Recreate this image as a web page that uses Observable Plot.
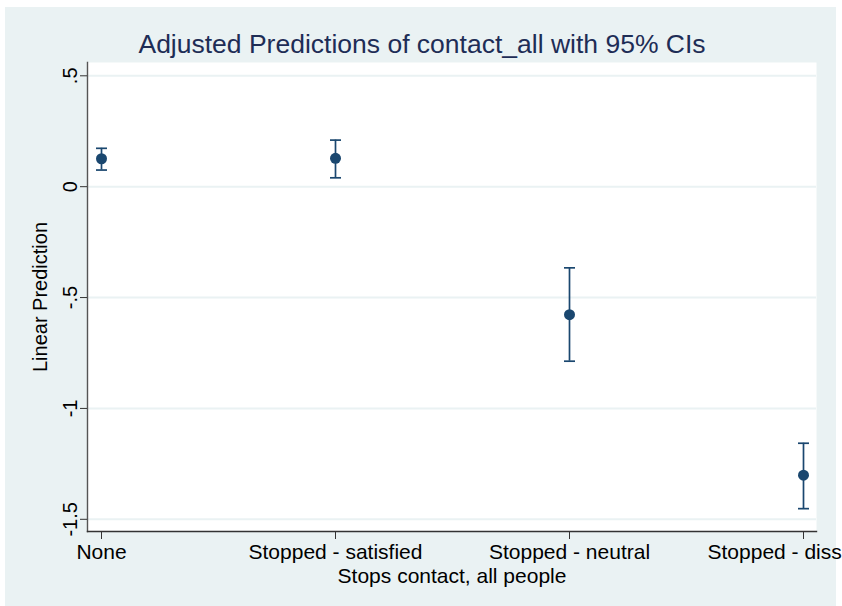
<!DOCTYPE html>
<html>
<head>
<meta charset="utf-8">
<script src="https://cdn.jsdelivr.net/npm/d3@7"></script>
<script src="https://cdn.jsdelivr.net/npm/@observablehq/plot@0.6"></script>
<style>
  html, body { margin: 0; padding: 0; background: #ffffff; }
  #wrap { position: relative; width: 842px; height: 606px; overflow: hidden; }
  #bg { position: absolute; left: 5px; top: 7px; width: 831px; height: 599px; background: #eaf2f3; }
  #chart { position: absolute; left: 0; top: 0; }
</style>
</head>
<body>
<div id="wrap"><div id="bg"></div><div id="chart"></div></div>
<script>
// ---- data ----
const categories = ["None", "Stopped - satisfied", "Stopped - neutral", "Stopped - dissatisfied"];
const tickLabels = ["None", "Stopped - satisfied", "Stopped - neutral", "Stopped - diss"];
const estimates  = [0.126, 0.128, -0.577, -1.301];
const lowerCI    = [0.075, 0.040, -0.787, -1.452];
const upperCI    = [0.173, 0.210, -0.366, -1.157];
const yTicks     = [0.5, 0, -0.5, -1, -1.5];
const titleText  = "Adjusted Predictions of contact_all with 95% CIs";
const xTitle     = "Stops contact, all people";
const yTitle     = "Linear Prediction";

const rows = categories.map((c, i) => ({cat: c, label: tickLabels[i], est: estimates[i], lo: lowerCI[i], hi: upperCI[i]}));

const navy = "#1a476f";
const font = "'Liberation Sans', Arial, Helvetica, sans-serif";
const capSymbol = {
  draw(context, size) {
    const w = Math.sqrt(size / Math.PI);
    context.moveTo(-w, 0);
    context.lineTo(w, 0);
  }
};
const fmt = d => d === 0 ? "0" : String(d).replace("0.", ".");

const chart = Plot.plot({
  width: 842,
  height: 606,
  marginLeft: 87,
  marginRight: 26,
  marginTop: 62,
  marginBottom: 75,
  style: {background: "transparent", fontFamily: font, fontSize: "20px", color: "#000", overflow: "visible"},
  x: {type: "point", domain: categories, padding: 0.057, label: null},
  y: {domain: [-1.555, 0.56], label: null},
  marks: [
    Plot.frame({fill: "white", stroke: null}),
    Plot.gridY(yTicks, {stroke: "#eaf2f3", strokeOpacity: 1, strokeWidth: 2}),
    Plot.frame({anchor: "left", stroke: "#555", strokeWidth: 1.4}),
    Plot.frame({anchor: "bottom", stroke: "#333", strokeWidth: 1.4}),
    Plot.axisY(yTicks, {tickFormat: fmt, tickRotate: -90, tickSize: 7, tickPadding: 4, fontSize: 20, stroke: "#333", label: null}),
    Plot.axisX(categories, {tickSize: 8, tickFormat: () => "", stroke: "#333", label: null}),
    Plot.text(rows.slice(0, 3), {x: "cat", text: "label", frameAnchor: "bottom", dy: 13, lineAnchor: "top", textAnchor: "middle", fontSize: 21, fill: "#000"}),
    Plot.text(rows.slice(3), {x: "cat", text: "label", frameAnchor: "bottom", dy: 13, dx: -96, lineAnchor: "top", textAnchor: "start", fontSize: 21, fill: "#000"}),
    Plot.ruleX(rows, {x: "cat", y1: "lo", y2: "hi", stroke: navy, strokeWidth: 1.7}),
    Plot.dot(rows, {x: "cat", y: "lo", symbol: capSymbol, r: 5.5, stroke: navy, strokeWidth: 1.7, fill: "none"}),
    Plot.dot(rows, {x: "cat", y: "hi", symbol: capSymbol, r: 5.5, stroke: navy, strokeWidth: 1.7, fill: "none"}),
    Plot.dot(rows, {x: "cat", y: "est", r: 5.5, fill: navy, stroke: null}),
    Plot.text([titleText], {frameAnchor: "top", dx: -30, dy: -18, fontSize: 26.5, fill: "#1e2d56", lineAnchor: "middle", textAnchor: "middle"}),
    Plot.text([xTitle], {frameAnchor: "bottom", dy: 45, fontSize: 21, fill: "#000", lineAnchor: "middle", textAnchor: "middle"}),
    Plot.text([yTitle], {frameAnchor: "left", dx: -47, rotate: -90, fontSize: 20, fill: "#000", lineAnchor: "middle", textAnchor: "middle"})
  ]
});
document.getElementById("chart").appendChild(chart);
</script>
</body>
</html>
